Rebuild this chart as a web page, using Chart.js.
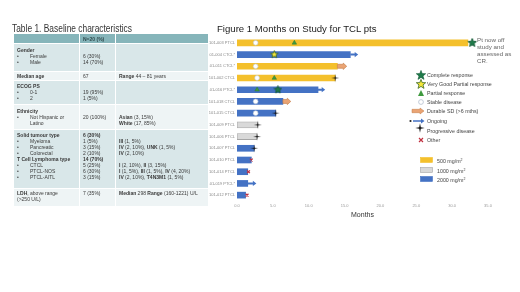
<!DOCTYPE html>
<html>
<head>
<meta charset="utf-8">
<script src="https://cdn.jsdelivr.net/npm/chart.js@4.4.1/dist/chart.umd.min.js"></script>
<style>
  body { margin: 0; width: 520px; height: 292px; background: #fff; position: relative; overflow: hidden;
         font-family: "Liberation Sans", Arial, sans-serif; color: #333; }
  #swimmer { position: absolute; left: 0; top: 0; }
  .ttl1 { position: absolute; left: 12px; top: 22px; font-family: "Liberation Sans", sans-serif;
          font-size: 10.5px; color: #333; white-space: nowrap; transform: scaleX(0.8); transform-origin: left center; }
  .ttl2 { position: absolute; left: 217px; top: 23px; font-size: 9.6px; color: #222; white-space: nowrap; }
  #t1 { position: absolute; left: 13px; top: 33px; width: 195px; border-collapse: collapse; table-layout: fixed;
        font-size: 5px; line-height: 6px; color: #3a3a3a; }
  #t1 td { border: 1px solid #fff; padding: 2px 3px 0 3px; vertical-align: top; white-space: nowrap; overflow: hidden; }
  #t1 tr.hd td { background: #86b5ba; vertical-align: middle; padding-top: 0; color: #2f4a4d; }
  #t1 tr.dk td { background: #d9e7e9; }
  #t1 tr.lt td { background: #eef4f5; }
  .bl { display: inline-block; width: 13px; }
  .lg { position: absolute; font-size: 5.3px; color: #444; white-space: nowrap; line-height: 6px; }
  .lg svg { position: absolute; }
  .note { position: absolute; left: 477px; top: 36px; font-size: 6.2px; line-height: 7px; color: #666; }
</style>
</head>
<body>
<canvas id="swimmer" width="520" height="292"></canvas>

<div class="ttl1">Table 1. Baseline characteristics</div>
<table id="t1">
  <colgroup><col style="width:66px"><col style="width:36px"><col style="width:93px"></colgroup>
  <tr class="hd" style="height:10px"><td></td><td><b>N=20 (%)</b></td><td></td></tr>
  <tr class="dk" style="height:28px">
    <td style="padding-top:3px"><b>Gender</b><br><span class="bl">•</span>Female<br><span class="bl">•</span>Male</td>
    <td style="padding-top:3px"><br>6 (30%)<br>14 (70%)</td><td></td></tr>
  <tr class="lt" style="height:9px">
    <td style="vertical-align:middle;padding-top:0"><b>Median age</b></td>
    <td style="vertical-align:middle;padding-top:0">67</td>
    <td style="vertical-align:middle;padding-top:0"><b>Range</b> 44 – 81 years</td></tr>
  <tr class="dk" style="height:24px">
    <td><b>ECOG PS</b><br><span class="bl">•</span>0-1<br><span class="bl">•</span>2</td>
    <td><br>19 (95%)<br>1 (5%)</td><td></td></tr>
  <tr class="lt" style="height:25px">
    <td style="padding-top:3px"><b>Ethnicity</b><br><span class="bl">•</span>Not Hispanic or<br><span class="bl"></span>Latino</td>
    <td style="padding-top:3px"><br>20 (100%)</td>
    <td style="padding-top:3px"><br><b>Asian</b> (3, 15%)<br><b>White</b> (17, 85%)</td></tr>
  <tr class="dk" style="height:59px">
    <td><b>Solid tumour type</b><br><span class="bl">•</span>Myeloma<br><span class="bl">•</span>Pancreatic<br><span class="bl">•</span>Colorectal<br><b>T Cell Lymphoma type</b><br><span class="bl">•</span>CTCL<br><span class="bl">•</span>PTCL-NOS<br><span class="bl">•</span>PTCL-AITL</td>
    <td><b>6 (30%)</b><br>1 (5%)<br>3 (15%)<br>2 (10%)<br><b>14 (70%)</b><br>5 (25%)<br>6 (30%)<br>3 (15%)</td>
    <td><br><b>III</b> (1, 5%)<br><b>IV</b> (2, 10%), <b>UNK</b> (1, 5%)<br><b>IV</b> (2, 10%)<br><br><b>I</b> (2, 10%), <b>II</b> (3, 15%)<br><b>I</b> (1, 5%), <b>III</b> (1, 5%), <b>IV</b> (4, 20%)<br><b>IV</b> (2, 10%), <b>T4N3M1</b> (1, 5%)</td></tr>
  <tr class="lt" style="height:18px">
    <td style="padding-top:1px"><b>LDH</b>, above range<br>(&gt;250 U/L)</td>
    <td style="padding-top:1px">7 (35%)</td>
    <td style="padding-top:1px"><b>Median</b> 298 <b>Range</b> (160-1221) U/L</td></tr>
</table>

<div class="ttl2">Figure 1 Months on Study for TCL pts</div>
<div class="note">Pt now off<br>study and<br>assessed as<br>CR.</div>

<div id="legend"></div>

<script>
// swimmer plot data (months on study per patient, top to bottom)
const patients = ['101-003 PTCL', '101-004 CTCL*', '101-011 CTCL*', '101-002 CTCL', '101-016 PTCL*',
                  '101-018 CTCL', '101-015 CTCL', '101-009 PTCL', '101-006 PTCL', '101-007 PTCL',
                  '101-010 PTCL', '101-014 PTCL', '101-019 PTCL*', '101-012 PTCL'];
const doses = ['500', '2000', '500', '500', '2000', '2000', '2000', '1000', '1000', '2000', '2000', '2000', '2000', '2000'];
const monthsOnStudy = [32.2, 15.8, 14.0, 13.7, 11.3, 6.4, 5.4, 2.9, 2.8, 2.4, 2.0, 1.5, 1.5, 1.2];

// arrows after the bar: 'durable' = Durable SD, 'ongoing' = still on study
const arrowKind = [null, 'ongoing', 'durable', null, 'ongoing', 'durable', null, null, null, null, null, null, 'ongoing', null];
const arrowTip = [null, 16.9, 15.3, null, 12.3, 7.5, null, null, null, null, null, null, 2.7, null];

// response markers (month of assessment, null = none)
const completeResp = [32.8, null, null, null, 5.7, null, null, null, null, null, null, null, null, null];
const vgpResp = [null, 5.2, null, null, null, null, null, null, null, null, null, null, null, null];
const partialResp = [8.0, null, null, 5.2, 2.8, null, null, null, null, null, null, null, null, null];
const stableDis = [2.6, null, 2.6, 2.8, null, 2.6, 2.6, null, null, null, null, null, null, null];
const progDis = [null, null, null, 13.7, null, null, 5.4, 2.9, 2.8, 2.4, null, null, null, null];
const otherEnd = [null, null, null, null, null, null, null, null, null, null, 2.0, 1.6, null, 1.4];

const doseLabels = ['500', '1000', '2000'];
const doseColors = { '500': '#f4c02c', '1000': '#d9d9d9', '2000': '#4472c4' };

function toPoints(vals) {
    return patients.map((p, i) => vals[i] == null ? null : { x: vals[i], y: p }).filter(Boolean);
}

function starImage(size, spikes, inner, fill, stroke) {
    const c = document.createElement('canvas');
    c.width = size; c.height = size;
    const g = c.getContext('2d');
    const r = size / 2 - 0.6;
    g.beginPath();
    for (let k = 0; k < spikes * 2; k++) {
        const rr = k % 2 === 0 ? r : r * inner;
        const a = -Math.PI / 2 + k * Math.PI / spikes;
        g.lineTo(size / 2 + rr * Math.cos(a), size / 2 + rr * Math.sin(a));
    }
    g.closePath();
    g.fillStyle = fill; g.fill();
    if (stroke) { g.strokeStyle = stroke; g.lineWidth = 0.9; g.stroke(); }
    return c;
}

const bigStar = starImage(10, 5, 0.45, '#1e7b4a', '#145a35');
const midStar = starImage(9, 5, 0.45, '#1e7b4a', '#145a35');
const vgpStar = starImage(9, 5, 0.45, '#f5e63a', '#3d6b2a');
const pdStar = starImage(9, 4, 0.18, '#111', null);

const arrowPlugin = {
    id: 'arrows',
    afterDatasetDraw(chart, args) {
        if (args.index !== 0) return;
        const { ctx, scales: { x, y } } = chart;
        ctx.save();
        patients.forEach((p, i) => {
            if (!arrowKind[i]) return;
            const x0 = x.getPixelForValue(monthsOnStudy[i]);
            const x1 = x.getPixelForValue(arrowTip[i]);
            const yc = y.getPixelForValue(i);
            const durable = arrowKind[i] === 'durable';
            const sh = durable ? 2 : 1;
            const hh = durable ? 3.2 : 2.6;
            const hl = 3.5;
            ctx.beginPath();
            ctx.moveTo(x0, yc - sh);
            ctx.lineTo(x1 - hl, yc - sh);
            ctx.lineTo(x1 - hl, yc - hh);
            ctx.lineTo(x1, yc);
            ctx.lineTo(x1 - hl, yc + hh);
            ctx.lineTo(x1 - hl, yc + sh);
            ctx.lineTo(x0, yc + sh);
            ctx.closePath();
            ctx.fillStyle = durable ? '#eaa474' : '#4472c4';
            ctx.fill();
            if (durable) { ctx.strokeStyle = '#c27a45'; ctx.lineWidth = 0.6; ctx.stroke(); }
        });
        ctx.restore();
    }
};

const ctx = document.getElementById('swimmer');
new Chart(ctx, {
    type: 'bar',
    data: {
        labels: patients,
        datasets: [
            {
                type: 'bar',
                data: monthsOnStudy,
                backgroundColor: doses.map(d => doseColors[d]),
                borderColor: doses.map(d => d === '1000' ? '#a6a6a6' : doseColors[d]),
                borderWidth: doses.map(d => d === '1000' ? 0.8 : 0),
                borderSkipped: false,
                barThickness: 6,
                order: 10
            },
            { type: 'scatter', data: toPoints(stableDis), pointStyle: 'circle', pointRadius: 2.4,
              backgroundColor: '#fff', borderColor: '#b9c8d6', borderWidth: 0.6, order: 5 },
            { type: 'scatter', data: toPoints(partialResp), pointStyle: 'triangle', pointRadius: 2.6,
              backgroundColor: '#3f9a3f', borderColor: '#2e7d32', borderWidth: 0.5, order: 4 },
            { type: 'scatter', data: toPoints(vgpResp), pointStyle: vgpStar, order: 3 },
            { type: 'scatter', data: toPoints(completeResp), pointStyle: completeResp.map(v => v > 20 ? bigStar : midStar).filter((s, i) => completeResp[i] != null), order: 2 },
            { type: 'scatter', data: toPoints(progDis), pointStyle: pdStar, order: 1 },
            { type: 'scatter', data: toPoints(otherEnd), pointStyle: 'crossRot', pointRadius: 2,
              borderColor: '#c0303f', borderWidth: 1.2, order: 1 }
        ]
    },
    options: {
        indexAxis: 'y',
        responsive: false,
        animation: false,
        layout: { padding: { left: 200, right: 32, top: 37, bottom: 73 } },
        plugins: { legend: { display: false }, tooltip: { enabled: false } },
        scales: {
            x: {
                min: 0, max: 35,
                ticks: { stepSize: 5, callback: v => v.toFixed(1), font: { size: 4 }, color: '#999', padding: 2 },
                grid: { display: false, drawTicks: false },
                border: { display: false },
                title: { display: true, text: 'Months', font: { size: 7 }, color: '#333', padding: 0 },
                afterFit(s) { s.height = 18; }
            },
            y: {
                ticks: { font: { size: 4 }, color: '#888', padding: 2, autoSkip: false },
                grid: { display: false, drawTicks: false },
                border: { display: false },
                afterFit(s) { s.width = 37; }
            }
        }
    },
    plugins: [arrowPlugin]
});

// legend (html, real text)
const starPts = '5,0.4 6.2,3.6 9.7,3.7 7,5.9 8,9.4 5,7.4 2,9.4 3,5.9 0.3,3.7 3.8,3.6';
const legendItems = [
    { text: 'Complete response', y: 75, icon: `<svg width="10" height="10" style="left:-11px;top:-2px"><polygon points="${starPts}" fill="#1e7b4a" stroke="#145a35" stroke-width="0.6"/></svg>` },
    { text: 'Very Good Partial response', y: 84, icon: `<svg width="10" height="10" style="left:-11px;top:-2px"><polygon points="${starPts}" fill="#f5e63a" stroke="#3d6b2a" stroke-width="0.8"/></svg>` },
    { text: 'Partial response', y: 93, icon: `<svg width="8" height="8" style="left:-10px;top:-1px"><polygon points="4,1 7,7 1,7" fill="#3f9a3f"/></svg>` },
    { text: 'Stable disease', y: 102, icon: `<svg width="8" height="8" style="left:-10px;top:-1px"><circle cx="4" cy="4" r="2.4" fill="#fff" stroke="#aab8c8" stroke-width="0.7"/></svg>` },
    { text: 'Durable SD (>6 mths)', y: 111, icon: `<svg width="14" height="8" style="left:-16px;top:-1px"><polygon points="1,2.3 9,2.3 9,1 13,4 9,7 9,5.7 1,5.7" fill="#eaa474" stroke="#c27a45" stroke-width="0.5"/></svg>` },
    { text: 'Ongoing', y: 121, icon: `<svg width="18" height="8" style="left:-18px;top:-1px"><circle cx="1.5" cy="4" r="1.1" fill="#222"/><polygon points="4,3.2 12,3.2 12,1.6 15.5,4 12,6.4 12,4.8 4,4.8" fill="#4472c4"/></svg>` },
    { text: 'Progressive disease', y: 131, icon: `<svg width="10" height="10" style="left:-12px;top:-5px"><path d="M5,0.3 L5.8,4.2 L9.7,5 L5.8,5.8 L5,9.7 L4.2,5.8 L0.3,5 L4.2,4.2 Z" fill="#111"/></svg>` },
    { text: 'Other', y: 140, icon: `<svg width="8" height="8" style="left:-10px;top:-1px"><path d="M2,2 L6,6 M6,2 L2,6" stroke="#c0303f" stroke-width="1.2"/></svg>` }
];
const legend = document.getElementById('legend');
legendItems.forEach(it => {
    const d = document.createElement('div');
    d.className = 'lg';
    d.style.left = '427px';
    d.style.top = (it.y - 3) + 'px';
    d.innerHTML = it.icon + it.text.replace('>', '&gt;');
    legend.appendChild(d);
});
doseLabels.forEach((dose, i) => {
    const d = document.createElement('div');
    d.className = 'lg';
    d.style.left = '437px';
    d.style.top = (157 + i * 9.5) + 'px';
    const edge = dose === '1000' ? '#a6a6a6' : doseColors[dose];
    d.innerHTML = `<svg width="13" height="6" style="left:-17px;top:0px"><rect x="0.5" y="0.5" width="12" height="5" fill="${doseColors[dose]}" stroke="${edge}" stroke-width="0.6"/></svg>${dose} mg/m<sup style="font-size:3.5px;vertical-align:2px">2</sup>`;
    legend.appendChild(d);
});
</script>
</body>
</html>
